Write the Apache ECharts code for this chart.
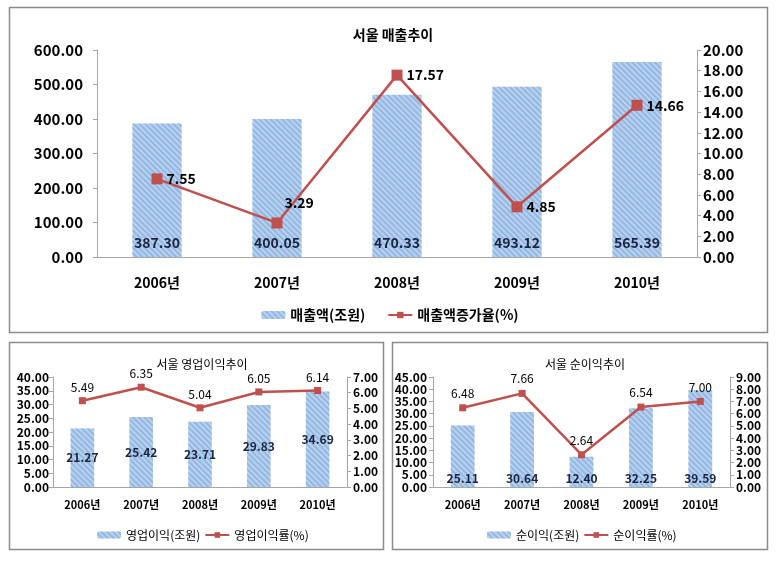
<!DOCTYPE html>
<html><head><meta charset="utf-8">
<script src="https://cdn.jsdelivr.net/npm/echarts@6/dist/echarts.min.js"></script>
<style>html,body{margin:0;padding:0;background:#fff}#c{width:780px;height:561px}</style>
</head><body><div id="c"></div>
<script>
const categories = ['2006년','2007년','2008년','2009년','2010년'];
const salesValues = [387.30, 400.05, 470.33, 493.12, 565.39];
const salesGrowth = [7.55, 3.29, 17.57, 4.85, 14.66];
const opProfit = [21.27, 25.42, 23.71, 29.83, 34.69];
const opMargin = [5.49, 6.35, 5.04, 6.05, 6.14];
const netProfit = [25.11, 30.64, 12.40, 32.25, 39.59];
const netMargin = [6.48, 7.66, 2.64, 6.54, 7.00];
const titles = ['서울 매출추이','서울 영업이익추이','서울 순이익추이'];
const barNames = ['매출액(조원)','영업이익(조원)','순이익(조원)'];
const lineNames = ['매출액증가율(%)','영업이익률(%)','순이익률(%)'];

const FONT = '"Noto Sans CJK KR", "Noto Sans", sans-serif';
const RED = '#c0504d';
const decal = {symbol:'rect', dashArrayX:[1,0], dashArrayY:[1.5,2], rotation:Math.PI/4, color:'rgba(120,160,215,0.55)'};
const barStyle = {color:'#b7d2ef', decal: decal};
const fmt = v => Number(v).toFixed(2);

const chart = echarts.init(document.getElementById('c'), null, {renderer:'canvas'});

function yAxis(gi, max, interval, pos, fs, margin){
  return {type:'value', gridIndex:gi, min:0, max:max, interval:interval, position:pos,
    axisLine:{show:true, lineStyle:{color:'#a6a6a6'}}, axisTick:{show:true, length:4, lineStyle:{color:'#a6a6a6'}},
    splitLine:{show:false},
    axisLabel:{formatter:fmt, color:'#000', fontFamily:FONT, fontWeight:'bold', fontSize:fs, margin:margin}};
}
function xAxis(gi, fs, margin){
  return {type:'category', gridIndex:gi, data:categories,
    axisLine:{lineStyle:{color:'#a6a6a6'}}, axisTick:{length:5, lineStyle:{color:'#a6a6a6'}},
    axisLabel:{color:'#000', fontFamily:FONT, fontWeight:'bold', fontSize:fs, margin:margin}};
}

const topLineData = salesGrowth.map((v,i)=> i===1 ? {value:v, label:{position:'right', offset:[-2,-20]}} : v);

const option = {
  animation:false,
  backgroundColor:'#fff',
  graphic:[
    {type:'rect', shape:{x:9.5, y:7.5, width:758, height:325}, style:{fill:'none', stroke:'#8c8c8c', lineWidth:1.5}, z:-1},
    {type:'rect', shape:{x:9.5, y:342.5, width:374, height:207}, style:{fill:'none', stroke:'#8c8c8c', lineWidth:1.5}, z:-1},
    {type:'rect', shape:{x:392.5, y:342.5, width:375, height:207}, style:{fill:'none', stroke:'#8c8c8c', lineWidth:1.5}, z:-1}
  ],
  title:[
    {text:titles[0], left:388, top:23, textAlign:'center', textStyle:{fontFamily:FONT, fontSize:14, fontWeight:'bold', color:'#000'}},
    {text:titles[1], left:197, top:353, textAlign:'center', textStyle:{fontFamily:FONT, fontSize:12, fontWeight:'normal', color:'#000'}},
    {text:titles[2], left:580, top:353, textAlign:'center', textStyle:{fontFamily:FONT, fontSize:12, fontWeight:'normal', color:'#000'}}
  ],
  legend:[
    {data:[barNames[0], lineNames[0]], left:'center', top:303, itemWidth:24, itemHeight:8, itemGap:22,
      textStyle:{fontFamily:FONT, fontSize:14, fontWeight:'bold', color:'#000'}},
    {data:[barNames[1], lineNames[1]], left:92, top:524, itemWidth:24, itemHeight:7, itemGap:4,
      textStyle:{fontFamily:FONT, fontSize:12, color:'#000'}},
    {data:[barNames[2], lineNames[2]], left:482, top:524, itemWidth:24, itemHeight:7, itemGap:4,
      textStyle:{fontFamily:FONT, fontSize:12, color:'#000'}}
  ],
  grid:[
    {left:97, right:83, top:50, bottom:304},
    {left:53, right:433, top:377, bottom:74},
    {left:433, right:50, top:377, bottom:74}
  ],
  xAxis:[xAxis(0,14,19), xAxis(1,11,12), xAxis(2,11,12)],
  yAxis:[
    yAxis(0,600,100,'left',15,14), yAxis(0,20,2,'right',15,6),
    yAxis(1,40,5,'left',12,4), yAxis(1,7,1,'right',12,6),
    yAxis(2,45,5,'left',12,6), yAxis(2,9,1,'right',12,6)
  ],
  series:[
    {name:barNames[0], type:'bar', xAxisIndex:0, yAxisIndex:0, data:salesValues, barWidth:'41%', itemStyle:barStyle,
      label:{show:true, position:'insideBottom', distance:7, formatter:p=>fmt(p.value), fontFamily:FONT, fontWeight:'bold', fontSize:14, color:'#1c2540'}},
    {name:lineNames[0], type:'line', xAxisIndex:0, yAxisIndex:1, data:topLineData, symbol:'rect', symbolSize:11,
      lineStyle:{color:RED, width:2.5}, itemStyle:{color:RED},
      label:{show:true, position:'right', distance:4, formatter:p=>fmt(p.value), fontFamily:FONT, fontWeight:'bold', fontSize:14, color:'#000'}},
    {name:barNames[1], type:'bar', xAxisIndex:1, yAxisIndex:2, data:opProfit, barWidth:'40%', itemStyle:barStyle,
      label:{show:true, position:'inside', formatter:p=>fmt(p.value), fontFamily:FONT, fontWeight:'bold', fontSize:12, color:'#1c2540'}},
    {name:lineNames[1], type:'line', xAxisIndex:1, yAxisIndex:3, data:opMargin, symbol:'rect', symbolSize:7,
      lineStyle:{color:RED, width:2.5}, itemStyle:{color:RED},
      label:{show:true, position:'top', distance:4, formatter:p=>fmt(p.value), fontFamily:FONT, fontSize:12, color:'#000'}},
    {name:barNames[2], type:'bar', xAxisIndex:2, yAxisIndex:4, data:netProfit, barWidth:'40%', itemStyle:barStyle,
      label:{show:true, position:'insideBottom', distance:3, formatter:p=>fmt(p.value), fontFamily:FONT, fontWeight:'bold', fontSize:12, color:'#1c2540'}},
    {name:lineNames[2], type:'line', xAxisIndex:2, yAxisIndex:5, data:netMargin, symbol:'rect', symbolSize:7,
      lineStyle:{color:RED, width:2.5}, itemStyle:{color:RED},
      label:{show:true, position:'top', distance:5, formatter:p=>fmt(p.value), fontFamily:FONT, fontSize:12, color:'#000'}}
  ]
};
chart.setOption(option);
</script></body></html>
